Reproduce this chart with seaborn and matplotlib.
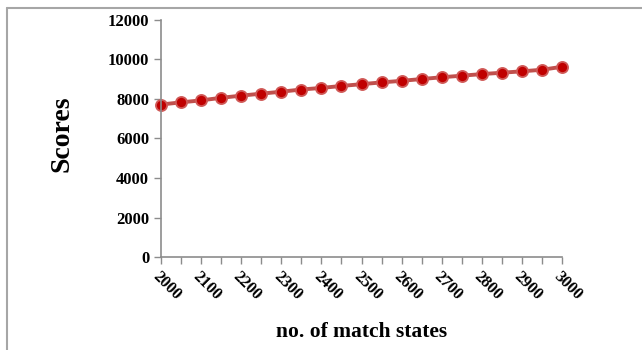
import pandas as pd
import seaborn as sns
import matplotlib.pyplot as plt
from matplotlib.lines import Line2D

# values
states = [2000, 2050, 2100, 2150, 2200, 2250, 2300, 2350, 2400, 2450, 2500,
          2550, 2600, 2650, 2700, 2750, 2800, 2850, 2900, 2950, 3000]
scores = [7720, 7830, 7930, 8060, 8170, 8270, 8370, 8480, 8560, 8660, 8750,
          8840, 8920, 9010, 9100, 9180, 9260, 9330, 9400, 9480, 9630]
xtick_labels = [2000, 2100, 2200, 2300, 2400, 2500, 2600, 2700, 2800, 2900, 3000]
ytick_labels = [0, 2000, 4000, 6000, 8000, 10000, 12000]

df = pd.DataFrame({'states': states, 'scores': scores})

sns.set_style('ticks')
plt.rcParams['font.family'] = ['Liberation Serif', 'DejaVu Serif']
plt.rcParams['font.weight'] = 'bold'
plt.rcParams['text.color'] = 'black'
plt.rcParams['axes.labelcolor'] = 'black'

fig = plt.figure(figsize=(6.42, 3.5), dpi=100)
ax = fig.add_axes([0.2508, 0.2657, 0.6246, 0.6772])

sns.lineplot(data=df, x='states', y='scores', ax=ax, color='#c0504d', linewidth=2.8,
             marker='o', markersize=8, markerfacecolor='#c00000',
             markeredgecolor='#d05a58', markeredgewidth=1.3, clip_on=False)

ax.set_xlim(2000, 3000)
ax.set_ylim(0, 12000)
ax.set_xticks(states, minor=True)
ax.set_xticks(xtick_labels)
ax.set_xticklabels([str(v) for v in xtick_labels], rotation=-45, ha='left',
                   va='top', rotation_mode='anchor', fontsize=12, fontweight='bold')
ax.set_yticks(ytick_labels)
ax.set_yticklabels([str(v) for v in ytick_labels], fontsize=12, fontweight='bold')

for side in ['top', 'right']:
    ax.spines[side].set_visible(False)
for side in ['left', 'bottom']:
    ax.spines[side].set_color('#8c8c8c')
    ax.spines[side].set_linewidth(1.2)
ax.tick_params(axis='both', which='both', color='#8c8c8c', width=1.0, length=5,
               labelcolor='black')
ax.tick_params(axis='x', which='major', pad=3)

ax.set_xlabel('no. of match states', fontsize=15.5, fontweight='bold', color='black',
              labelpad=14)
ax.set_ylabel('Scores', fontsize=20, fontweight='bold', color='black')
ax.yaxis.set_label_coords(-0.215, 0.52)

# light frame around the figure (top and left edges visible)
fig.add_artist(Line2D([7/642, 1.0], [1-8/350, 1-8/350], transform=fig.transFigure,
                      color='#a6a6a6', linewidth=1.5))
fig.add_artist(Line2D([7/642, 7/642], [0.0, 1-8/350], transform=fig.transFigure,
                      color='#a6a6a6', linewidth=1.5))

fig.savefig('out.png', dpi=100)
